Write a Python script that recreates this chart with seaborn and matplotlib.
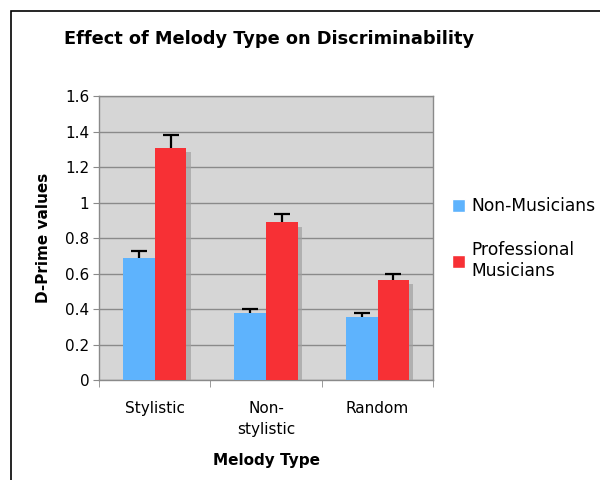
import matplotlib
matplotlib.use("Agg")
import matplotlib.pyplot as plt
import matplotlib.patheffects as pe
from matplotlib.patches import Rectangle
import seaborn as sns
import pandas as pd
import numpy as np

categories = ["Stylistic", "Non-\nstylistic", "Random"]
groups = ["Non-Musicians", "Professional\nMusicians"]
non_musicians = [0.687, 0.380, 0.358]
professional = [1.311, 0.890, 0.566]
err_non = [0.040, 0.023, 0.022]
err_pro = [0.073, 0.046, 0.034]
yticks = [0, 0.2, 0.4, 0.6, 0.8, 1, 1.2, 1.4, 1.6]
ytick_labels = ["0", "0.2", "0.4", "0.6", "0.8", "1", "1.2", "1.4", "1.6"]

colors = ["#5eb3fd", "#f73035"]

df = pd.DataFrame({
    "Melody Type": categories * 2,
    "Group": [groups[0]] * 3 + [groups[1]] * 3,
    "value": non_musicians + professional,
    "err": err_non + err_pro,
})

sns.set_style("white")
plt.rcParams["font.family"] = ["DejaVu Sans"]
plt.rcParams["text.color"] = "black"
plt.rcParams["axes.labelcolor"] = "black"
plt.rcParams["xtick.labelcolor"] = "black"
plt.rcParams["ytick.labelcolor"] = "black"

fig = plt.figure(figsize=(6, 4.8), dpi=100)
ax = fig.add_axes([0.165, 0.2075, 0.557, 0.592])
ax.set_facecolor("#d6d6d6")

sns.barplot(data=df, x="Melody Type", y="value", hue="Group", order=categories,
            hue_order=groups, palette=colors, width=0.57, errorbar=None,
            saturation=1, ax=ax, legend=True, zorder=3)

shadow = [pe.SimplePatchShadow(offset=(3, -3), shadow_rgbFace="#a0a0a0", alpha=0.7), pe.Normal()]
bars = [p for p in ax.patches if p.get_height() > 0]
for p in bars:
    p.set_path_effects(shadow)
    p.set_edgecolor("none")

# error bars (upper only)
for gi, g in enumerate(groups):
    sub = df[df["Group"] == g].set_index("Melody Type").loc[categories]
    cont = ax.containers[gi]
    xs = [r.get_x() + r.get_width() / 2 for r in cont]
    line, caps, bl = ax.errorbar(xs, sub["value"].values, yerr=[np.zeros(3), sub["err"].values],
                                 fmt="none", ecolor="black", elinewidth=1.6, capsize=5.5,
                                 capthick=1.6, zorder=4)
    caps[0].set_visible(False)

ax.set_ylim(0, 1.6)
ax.set_xlim(-0.5, 2.5)
ax.set_yticks(yticks)
ax.set_yticklabels(ytick_labels, fontsize=11)
ax.yaxis.grid(True, color="#8a8a8a", linewidth=1.0, zorder=0)
ax.set_axisbelow(True)
ax.tick_params(axis="y", length=4, color="#8a8a8a", direction="out", left=True, pad=3)
ax.tick_params(axis="x", which="major", length=0, labelsize=11, pad=15)
for t in ax.get_xticklabels():
    t.set_linespacing(1.5)
ax.set_xticks([-0.5, 0.5, 1.5, 2.5], minor=True)
ax.tick_params(axis="x", which="minor", length=5, color="#8a8a8a", direction="out", bottom=True)
for s in ax.spines.values():
    s.set_color("#8a8a8a")
    s.set_linewidth(1.0)

ax.set_xlabel("Melody Type", fontsize=11, fontweight="bold", labelpad=11)
ax.set_ylabel("D-Prime values", fontsize=11, fontweight="bold", labelpad=10)

leg = ax.legend(loc="center left", bbox_to_anchor=(1.009, 0.50), frameon=False,
                fontsize=12.3, handlelength=0.77, handleheight=0.77, handletextpad=0.4,
                labelspacing=1.5)
for h in leg.legend_handles:
    h.set_path_effects([])

fig.text(0.448, 0.918, "Effect of Melody Type on Discriminability", ha="center", va="center",
         fontsize=12.8, fontweight="bold")

fig.patches.append(Rectangle((11 / 600, -0.1), 1.2, 1 - 11 / 480 + 0.1, transform=fig.transFigure,
                             fill=False, edgecolor="black", linewidth=1.2))

fig.savefig("out.png", dpi=100)
